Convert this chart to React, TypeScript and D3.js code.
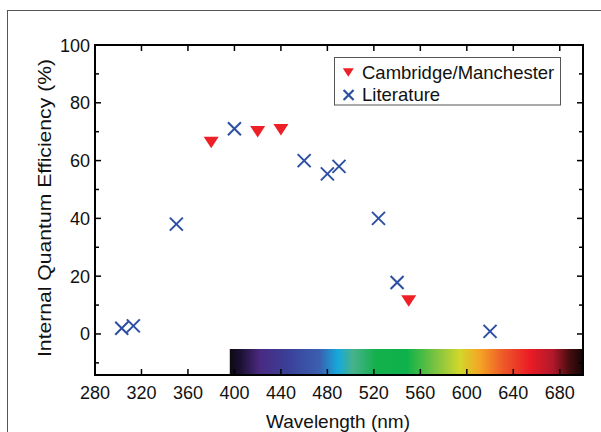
import React from "react";
import * as d3 from "d3";

const camWavelengths = [380, 420, 440, 550];
const camValues = [66.3, 70.0, 70.7, 11.4];
const litWavelengths = [303, 313, 350, 400, 460, 480, 490, 524, 540, 620];
const litValues = [2.0, 2.8, 38.0, 71.0, 60.0, 55.4, 58.0, 40.0, 17.8, 0.9];
const xTicks = [280, 320, 360, 400, 440, 480, 520, 560, 600, 640, 680];
const yTicks = [0, 20, 40, 60, 80, 100];
const yMinorTicks = [-10, 0, 10, 20, 30, 40, 50, 60, 70, 80, 90, 100];
const spectrumNm = [396, 405, 422, 445, 473, 489, 502, 522, 548, 577, 594, 611, 631, 654, 674, 688, 700];
const spectrumColors = [
  "#0e0a12", "#1b1032", "#4a2a82", "#3a3f96", "#3b5fb0", "#16a8dc", "#48b28c",
  "#14b04c", "#0db14b", "#8cc63f", "#d2d72b", "#f5a524", "#ee5a29", "#ea1c25",
  "#b2182b", "#4a0d10", "#120505",
];
const legendLabels = ["Cambridge/Manchester", "Literature"];

const W = 601;
const H = 432;
const M = { left: 95, right: 583, top: 45, bottom: 375 };
const FONT = "'Liberation Sans', Arial, Helvetica, sans-serif";
const RED = "#ed1f27";
const BLUE = "#2d4fa2";

export default function App() {
  const x = d3.scaleLinear().domain([280, 700]).range([M.left, M.right]);
  const y = d3.scaleLinear().domain([-14.2, 100]).range([M.bottom, M.top]);
  const specX0 = x(spectrumNm[0]);
  const specX1 = x(spectrumNm[spectrumNm.length - 1]);

  const tri = (cx: number, cy: number, w: number, h: number) =>
    `M${cx - w / 2},${cy - h / 2}L${cx + w / 2},${cy - h / 2}L${cx},${cy + h / 2}Z`;
  const cross = (cx: number, cy: number, r: number, key: string, sw: number) => (
    <g key={key} stroke={BLUE} strokeWidth={sw} strokeLinecap="butt">
      <line x1={cx - r} y1={cy - r} x2={cx + r} y2={cy + r} />
      <line x1={cx - r} y1={cy + r} x2={cx + r} y2={cy - r} />
    </g>
  );

  return (
    <svg width={W} height={H} style={{ position: "absolute", left: 0, top: 0 }} fontFamily={FONT}>
      <rect x={0} y={0} width={W} height={H} fill="#fff" />
      <rect x={7.5} y={10.5} width={W + 20} height={H + 20} fill="none" stroke="#555" strokeWidth={1} />
      <defs>
        <linearGradient id="spec" x1={specX0} x2={specX1} y1={0} y2={0} gradientUnits="userSpaceOnUse">
          {spectrumNm.map((nm, i) => (
            <stop key={nm} offset={(nm - spectrumNm[0]) / (spectrumNm[spectrumNm.length - 1] - spectrumNm[0])} stopColor={spectrumColors[i]} />
          ))}
        </linearGradient>
      </defs>
      <rect x={specX0} y={349} width={specX1 - specX0} height={M.bottom - 349} fill="url(#spec)" />

      {/* ticks */}
      <g stroke="#000" strokeWidth={1.5}>
        {xTicks.map((t) => (
          <g key={"xt" + t}>
            <line x1={x(t)} x2={x(t)} y1={M.bottom} y2={M.bottom - 6} />
            <line x1={x(t)} x2={x(t)} y1={M.top} y2={M.top + 6} />
          </g>
        ))}
        {yMinorTicks.map((t) => {
          const major = yTicks.includes(t);
          const len = major ? 6 : 4;
          return (
            <g key={"yt" + t}>
              <line x1={M.left} x2={M.left + len} y1={y(t)} y2={y(t)} />
              <line x1={M.right} x2={M.right - len} y1={y(t)} y2={y(t)} />
            </g>
          );
        })}
      </g>
      <rect x={M.left} y={M.top} width={M.right - M.left} height={M.bottom - M.top} fill="none" stroke="#000" strokeWidth={2} />

      {/* tick labels */}
      <g fontSize={18} fill="#111">
        {xTicks.map((t) => (
          <text key={"xl" + t} x={x(t)} y={399} textAnchor="middle">{t}</text>
        ))}
        {yTicks.map((t) => (
          <text key={"yl" + t} x={M.left - 5} y={y(t) + 6.5} textAnchor="end">{t}</text>
        ))}
      </g>
      <text x={(M.left + M.right) / 2 - 1} y={427.5} textAnchor="middle" fontSize={19} fill="#111">Wavelength (nm)</text>
      <text transform={`translate(50.5,208) rotate(-90)`} textAnchor="middle" fontSize={18.5} fill="#111"
        textLength={298} lengthAdjust="spacingAndGlyphs">
        Internal Quantum Efficiency (%)
      </text>

      {/* data */}
      {camWavelengths.map((w, i) => (
        <path key={"c" + i} d={tri(x(w), y(camValues[i]), 15, 11.5)} fill={RED} />
      ))}
      {litWavelengths.map((w, i) => cross(x(w), y(litValues[i]), 6.5, "l" + i, 2))}

      {/* legend */}
      <rect x={334.5} y={57.5} width={226} height={47.5} fill="#fff" stroke="#555" strokeWidth={1} />
      <path d={tri(348.3, 72.5, 11, 8.5)} fill={RED} />
      {cross(348.6, 95, 5, "lg", 2.2)}
      <text x={362} y={78.5} fontSize={18.5} fill="#111">{legendLabels[0]}</text>
      <text x={362} y={100.5} fontSize={18.5} fill="#111">{legendLabels[1]}</text>
    </svg>
  );
}
